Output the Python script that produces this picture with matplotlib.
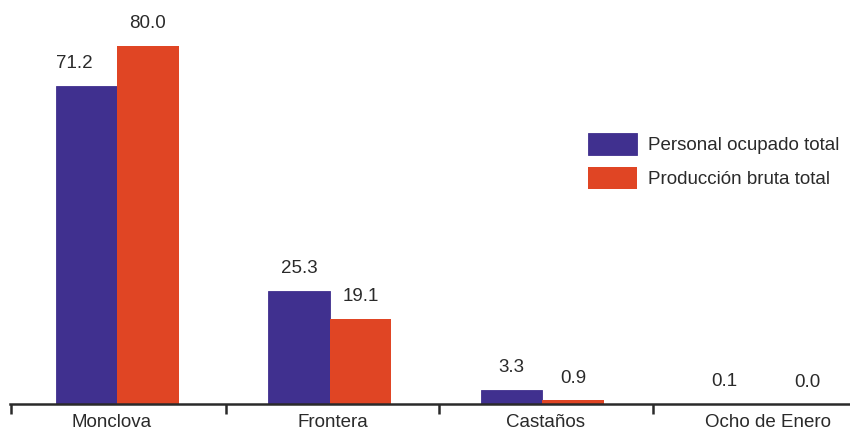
import matplotlib
matplotlib.use("Agg")
import matplotlib.pyplot as plt
import numpy as np

plt.rcParams['font.family'] = ['Liberation Sans', 'DejaVu Sans']

municipios = ["Monclova", "Frontera", "Castaños", "Ocho de Enero"]
personal = [71.2, 25.3, 3.3, 0.1]
produccion = [80.0, 19.1, 0.9, 0.0]
series_names = ["Personal ocupado total", "Producción bruta total"]

color_personal = "#40308f"
color_produccion = "#e04524"
text_color = "#2a2a2a"
fs = 13.5

W, H = 850, 434
fig = plt.figure(figsize=(W / 100, H / 100), dpi=100)
ax = fig.add_axes([10 / W, 29.6 / H, 840 / W, 1 - 29.6 / H])

x = np.arange(len(municipios))
w = 0.289
b1 = ax.bar(x - w / 2, personal, w, color=color_personal, label=series_names[0],
            edgecolor=color_personal, linewidth=0.6)
b2 = ax.bar(x + w / 2, produccion, w, color=color_produccion, label=series_names[1],
            linewidth=0)

# small horizontal nudges (points) for a couple of value labels
nudge = {(0, 0): -9, (1, 3): 16}
for s, (bars, vals) in enumerate(((b1, personal), (b2, produccion))):
    for i, (rect, v) in enumerate(zip(bars, vals)):
        ax.annotate(f"{v:.1f}", (rect.get_x() + rect.get_width() / 2, v),
                    xytext=(nudge.get((s, i), 0), 16), textcoords="offset points",
                    ha="center", va="center", fontsize=fs, color=text_color)

boundaries = [-0.5, 0.51, 1.515, 2.52]
ax.set_xticks(boundaries)
ax.set_xticklabels([])
centers = [(boundaries[i] + boundaries[i + 1]) / 2 for i in range(3)] + [3.065]
centers[0] -= 0.03
ax.set_xticks(centers, minor=True)
ax.set_xticklabels(municipios, minor=True, fontsize=fs, color=text_color)
ax.tick_params(axis="x", which="major", length=7, width=1.8, direction="out", color=text_color)
ax.tick_params(axis="x", which="minor", length=0, pad=7)
ax.set_yticks([])
ax.set_xlim(-0.505, 3.449)
ax.set_ylim(0, 90.3)
for s in ("top", "right", "left"):
    ax.spines[s].set_visible(False)
ax.spines["bottom"].set_linewidth(1.8)
ax.spines["bottom"].set_color(text_color)

leg = ax.legend(loc="upper left", bbox_to_anchor=(588 / W, 1 - 133 / H),
                bbox_transform=fig.transFigure, frameon=False,
                fontsize=fs, handlelength=2.61, handleheight=1.45,
                handletextpad=0.58, labelspacing=0.62, borderaxespad=0, borderpad=0)
for t in leg.get_texts():
    t.set_color(text_color)

fig.savefig("out.png", dpi=100)
